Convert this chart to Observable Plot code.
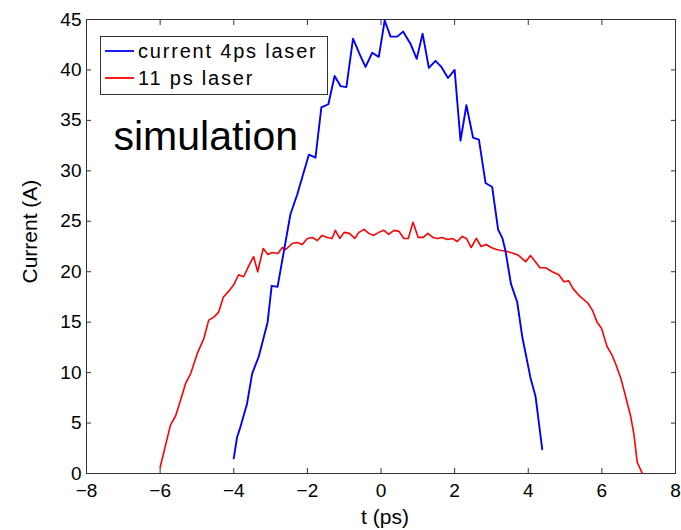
<!DOCTYPE html>
<html>
<head>
<meta charset="utf-8">
<script src="https://cdn.jsdelivr.net/npm/d3@7"></script>
<script src="https://cdn.jsdelivr.net/npm/@observablehq/plot@0.6"></script>
<style>
  html, body { margin: 0; padding: 0; background: #fff; }
  #wrap { position: relative; width: 681px; height: 530px; font-family: "Liberation Sans", Arial, Helvetica, sans-serif; }
  #legend { position: absolute; left: 100px; top: 36px; width: 226px; height: 57px; border: 1px solid #333; background: #fff; font-size: 20px; letter-spacing: 1.8px; color: #000; }
  .item { position: absolute; left: 4px; height: 22px; display: flex; align-items: center; white-space: nowrap; }
  .item svg { margin-right: 4px; }
</style>
</head>
<body>
<div id="wrap"></div>
<script>
// ---- data ----
const blueName = "current 4ps laser";
const redName = "11 ps laser";
const annotation = "simulation";
const xLabel = "t (ps)";
const yLabel = "Current (A)";
const xTicks = [-8, -6, -4, -2, 0, 2, 4, 6, 8];
const yTicks = [0, 5, 10, 15, 20, 25, 30, 35, 40, 45];

const blueT = [-4.0, -3.91, -3.82, -3.64, -3.5, -3.32, -3.08, -2.97, -2.81, -2.64, -2.46, -2.28, -1.96, -1.78, -1.62, -1.43, -1.26, -1.10, -0.94, -0.76, -0.56, -0.42, -0.24, -0.06, 0.10, 0.26, 0.44, 0.60, 0.80, 0.97, 1.13, 1.30, 1.48, 1.64, 1.82, 2.00, 2.16, 2.32, 2.50, 2.66, 2.84, 3.02, 3.18, 3.30, 3.38, 3.53, 3.70, 3.84, 4.06, 4.20, 4.38];
const blueI = [1.5, 3.6, 4.6, 6.9, 9.9, 11.6, 15.0, 18.6, 18.5, 22.0, 25.7, 27.6, 31.6, 31.3, 36.3, 36.6, 39.4, 38.4, 38.3, 43.1, 41.4, 40.3, 41.7, 41.3, 44.9, 43.3, 43.3, 43.8, 42.6, 41.1, 43.6, 40.2, 40.9, 40.3, 39.2, 40.0, 33.0, 36.5, 33.3, 33.1, 28.8, 28.4, 24.2, 23.3, 22.1, 18.8, 17.0, 13.5, 9.5, 7.6, 2.4];

const redT = [-6.0, -5.72, -5.58, -5.45, -5.31, -5.17, -4.99, -4.81, -4.68, -4.54, -4.41, -4.28, -4.13, -4.0, -3.87, -3.73, -3.59, -3.46, -3.35, -3.2, -3.07, -2.96, -2.80, -2.68, -2.59, -2.41, -2.28, -2.14, -2.0, -1.87, -1.73, -1.60, -1.46, -1.33, -1.24, -1.12, -1.0, -0.86, -0.71, -0.6, -0.46, -0.33, -0.2, -0.06, 0.08, 0.21, 0.35, 0.49, 0.62, 0.74, 0.87, 1.01, 1.15, 1.27, 1.41, 1.54, 1.66, 1.80, 1.94, 2.07, 2.21, 2.32, 2.45, 2.59, 2.72, 2.86, 2.99, 3.14, 3.27, 3.43, 3.61, 3.74, 3.93, 4.06, 4.32, 4.47, 4.65, 4.83, 4.97, 5.10, 5.22, 5.42, 5.62, 5.74, 5.87, 5.99, 6.14, 6.28, 6.37, 6.51, 6.64, 6.78, 6.87, 6.96, 7.1];
const redI = [0.6, 4.8, 5.7, 7.2, 8.9, 9.9, 11.9, 13.4, 15.2, 15.5, 16.0, 17.5, 18.1, 18.7, 19.7, 19.5, 20.6, 21.5, 20.0, 22.3, 21.7, 21.9, 21.8, 22.4, 22.2, 22.8, 22.9, 22.7, 23.3, 23.4, 23.1, 23.6, 23.4, 23.3, 24.1, 23.3, 23.9, 23.8, 23.3, 23.9, 24.2, 23.8, 23.6, 23.9, 24.1, 23.7, 24.1, 24.0, 23.3, 23.3, 24.9, 23.4, 23.4, 23.8, 23.4, 23.3, 23.4, 23.2, 23.3, 23.0, 23.5, 23.3, 22.4, 23.3, 22.5, 22.7, 22.4, 22.2, 22.1, 22.0, 21.8, 21.6, 21.0, 21.6, 20.4, 20.4, 20.0, 19.7, 19.0, 19.1, 18.3, 17.5, 16.9, 16.2, 15.0, 14.4, 12.6, 11.7, 10.9, 9.5, 7.7, 5.7, 3.9, 1.1, 0.0];

const blue = blueT.map((t, i) => ({t, I: blueI[i]}));
const red = redT.map((t, i) => ({t, I: redI[i]}));

const font = "'Liberation Sans', Arial, Helvetica, sans-serif";
const blank = () => "";

const chart = Plot.plot({
  width: 681,
  height: 530,
  marginLeft: 86,
  marginRight: 6,
  marginTop: 19,
  marginBottom: 57,
  style: {fontFamily: font, fontSize: "19px", color: "#000", background: "#fff"},
  x: {domain: [-8, 8]},
  y: {domain: [0, 45]},
  marks: [
    Plot.axisX(xTicks, {anchor: "bottom", tickSize: -5, tickPadding: 15, label: null, fontSize: 19, stroke: "#333"}),
    Plot.axisX(xTicks, {anchor: "top", tickSize: -5, tickFormat: blank, label: null, stroke: "#333"}),
    Plot.axisY(yTicks, {anchor: "left", tickSize: -5, tickPadding: 10, label: null, fontSize: 19, stroke: "#333"}),
    Plot.axisY(yTicks, {anchor: "right", tickSize: -5, tickFormat: blank, label: null, stroke: "#333"}),
    Plot.frame({stroke: "#333", strokeWidth: 1}),
    Plot.line(red, {x: "t", y: "I", stroke: "#ff0000", strokeWidth: 1.6}),
    Plot.line(blue, {x: "t", y: "I", stroke: "#0000ff", strokeWidth: 1.9}),
    Plot.text([annotation], {frameAnchor: "top-left", text: d => d, dx: 27, dy: 101, textAnchor: "start", lineAnchor: "top", fontSize: 41, fill: "#000"}),
    Plot.text([xLabel], {frameAnchor: "bottom", text: d => d, dx: 4, dy: 44, lineAnchor: "middle", fontSize: 21, fill: "#000"}),
    Plot.text([yLabel], {frameAnchor: "left", text: d => d, dx: -56, dy: 37, rotate: -90, lineAnchor: "middle", fontSize: 21, fill: "#000"})
  ]
});

const wrap = document.getElementById("wrap");
wrap.appendChild(chart);

const legend = document.createElement("div");
legend.id = "legend";
const items = [[blueName, "#0000ff", 14], [redName, "#ff0000", 41]];
for (const [name, color, cy] of items) {
  const it = document.createElement("div");
  it.className = "item";
  it.style.top = (cy - 11) + "px";
  it.innerHTML = `<svg width="29" height="4"><line x1="0" y1="2" x2="29" y2="2" stroke="${color}" stroke-width="1.8"/></svg><span></span>`;
  it.querySelector("span").textContent = name;
  legend.appendChild(it);
}
wrap.appendChild(legend);
</script>
</body>
</html>
